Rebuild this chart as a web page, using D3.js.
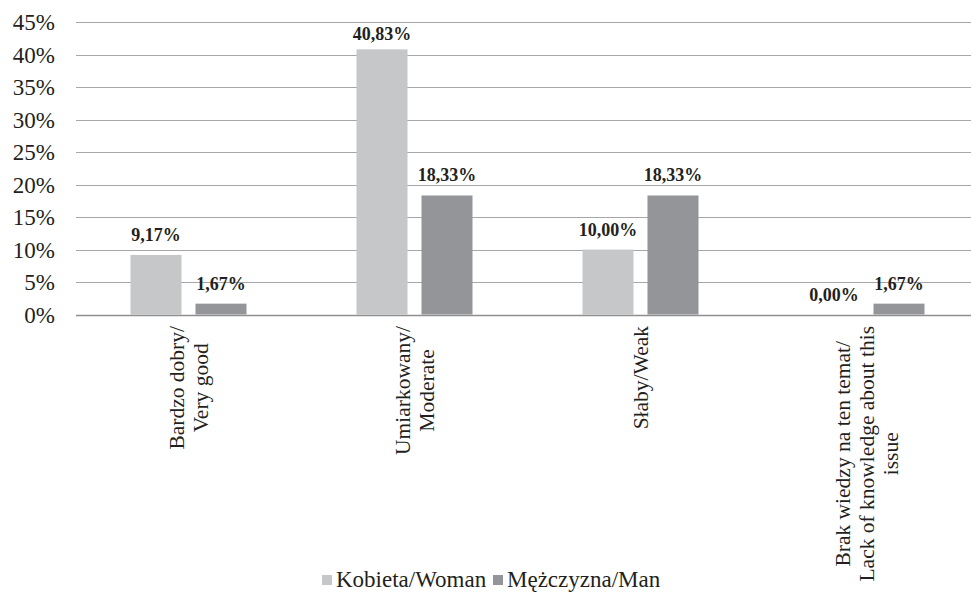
<!DOCTYPE html>
<html>
<head>
<meta charset="utf-8">
<script src="https://cdn.jsdelivr.net/npm/d3@7"></script>
<style>
  html, body { margin: 0; padding: 0; background: #ffffff; }
  svg { display: block; }
</style>
</head>
<body>
<svg id="chart" width="971" height="594"></svg>
<script>
// Category labels (each entry is the list of wrapped lines)
const categories = ["very", "moderate", "weak", "none"];
const categoryLines = [
  ["Bardzo dobry/", "Very good"],
  ["Umiarkowany/", "Moderate"],
  ["Słaby/Weak"],
  ["Brak wiedzy na ten temat/", "Lack of knowledge about this", "issue"]
];
const seriesNames = ["Kobieta/Woman", "Mężczyzna/Man"];
const womanValues = [9.17, 40.83, 10.00, 0.00];
const manValues = [1.67, 18.33, 18.33, 1.67];
const yTicks = [0, 5, 10, 15, 20, 25, 30, 35, 40, 45];
const seriesColors = ["#c6c7c9", "#939598"];

const FONT = "'Liberation Serif', 'Times New Roman', Tinos, 'DejaVu Serif', serif";
const INK = "#231f20";

const svg = d3.select("#chart");
const W = 971;

const x = d3.scaleBand().domain(categories).range([75.5, 979.5]);
const xs = d3.scaleBand().domain(seriesNames).range([55, 171]).paddingInner(0.215).paddingOuter(0);
const y = d3.scaleLinear().domain([0, 45]).range([314.5, 22.3]);

const fmt = v => v.toFixed(2).replace(".", ",") + "%";
const styleText = sel => sel.style("font-family", FONT).style("fill", INK);

// Horizontal gridlines
svg.append("g").selectAll("line")
  .data(yTicks.filter(t => t > 0))
  .join("line")
  .attr("x1", 76).attr("x2", W)
  .attr("y1", d => Math.round(y(d)) + 0.5)
  .attr("y2", d => Math.round(y(d)) + 0.5)
  .attr("stroke", "#a7a7a7").attr("stroke-width", 1.2);

// Y axis tick labels
const yAxis = d3.axisLeft(y).tickValues(yTicks).tickSize(0).tickPadding(0).tickFormat(d => d + "%");
const yg = svg.append("g").attr("transform", "translate(55,0)").call(yAxis);
yg.select(".domain").remove();
yg.selectAll("text")
  .style("font-size", "23px")
  .attr("dy", "0.33em")
  .call(styleText);

// Bars
const rows = categories.map((c, i) => ({ cat: c, vals: [womanValues[i], manValues[i]] }));
const groups = svg.append("g").selectAll("g")
  .data(rows)
  .join("g")
  .attr("transform", d => `translate(${x(d.cat)},0)`);

groups.selectAll("rect")
  .data(d => d.vals.map((v, j) => ({ v, s: seriesNames[j], j })))
  .join("rect")
  .attr("x", d => xs(d.s))
  .attr("width", xs.bandwidth())
  .attr("y", d => y(d.v))
  .attr("height", d => y(0) - y(d.v))
  .attr("fill", d => seriesColors[d.j]);

// Value labels above bars (kept inside the plot area)
groups.selectAll("text.val")
  .data(d => d.vals.map((v, j) => ({ v, s: seriesNames[j], j })))
  .join("text")
  .attr("class", "val")
  .attr("x", d => xs(d.s) + xs.bandwidth() / 2)
  .attr("y", d => Math.max(y(d.v) - 14, 40))
  .attr("text-anchor", "middle")
  .style("font-size", "18px")
  .style("font-weight", "bold")
  .call(styleText)
  .text(d => fmt(d.v));

// Baseline axis
svg.append("line")
  .attr("x1", 76).attr("x2", W)
  .attr("y1", Math.round(y(0)) + 0.5).attr("y2", Math.round(y(0)) + 0.5)
  .attr("stroke", "#8f8f8f").attr("stroke-width", 1.5);

// Rotated category labels
const lh = 24, fs = 21.5, topY = 326;
categories.forEach((c, i) => {
  const cx = x(c) + x.bandwidth() / 2;
  const lines = categoryLines[i];
  const g = svg.append("g");
  const texts = lines.map(l => g.append("text")
    .style("font-size", fs + "px")
    .attr("text-anchor", "middle")
    .call(styleText)
    .text(l));
  const maxW = d3.max(texts, t => t.node().getComputedTextLength());
  const cy = topY + maxW / 2;
  const n = lines.length;
  texts.forEach((t, k) => {
    const bx = cx + (k - (n - 1) / 2) * lh + fs * 0.33;
    t.attr("transform", `translate(${bx},${cy}) rotate(-90)`);
  });
});

// Legend
const legend = svg.append("g");
const legendX = [322, 493];
seriesNames.forEach((s, j) => {
  legend.append("rect")
    .attr("x", legendX[j]).attr("y", 575)
    .attr("width", 10).attr("height", 10)
    .attr("fill", seriesColors[j]);
  legend.append("text")
    .attr("x", legendX[j] + 14).attr("y", 587)
    .style("font-size", "23px")
    .call(styleText)
    .text(s);
});
</script>
</body>
</html>
